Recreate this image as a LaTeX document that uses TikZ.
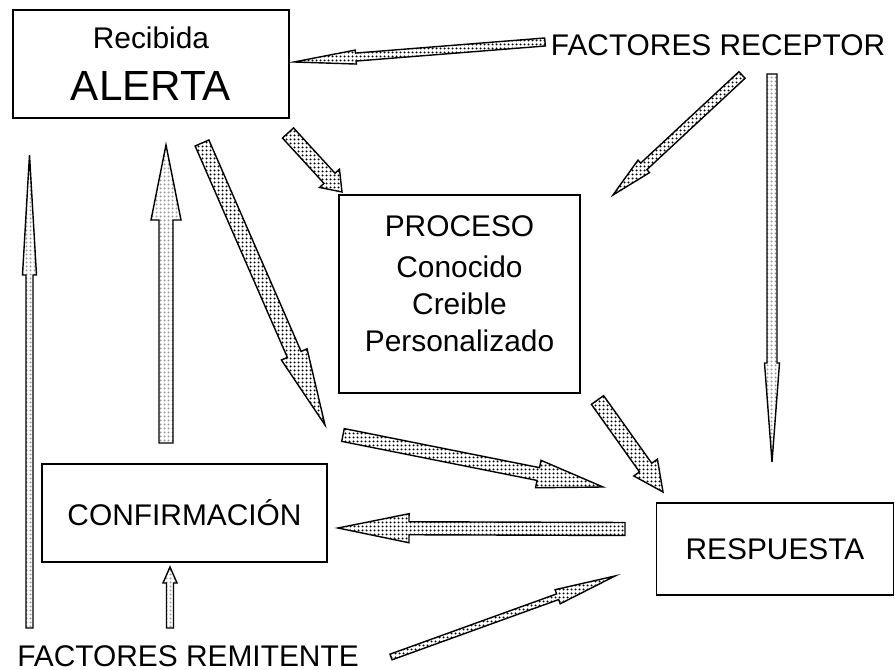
\documentclass[tikz,border=0pt]{standalone}
\usepackage{fontspec}
\setmainfont{Liberation Sans}
\usetikzlibrary{calc,patterns}

% dot fill of the arrows
\pgfdeclarepatternformonly{puntos}{\pgfpointorigin}{\pgfpoint{2pt}{2pt}}{\pgfpoint{2pt}{2pt}}{%
    \pgfpathcircle{\pgfpoint{1pt}{1pt}}{0.7pt}\pgfusepath{fill}}

% block arrow: #1 style, #2 tail, #3 tip, #4 half shaft, #5 half head, #6 head length
\newcommand{\flecha}[6]{%
    \coordinate (fbase) at ($(#3)!#6!(#2)$);
    \draw[#1] ($(#2)!#4!90:(#3)$) -- ($(fbase)!#4!90:(#3)$) -- ($(fbase)!#5!90:(#3)$) -- (#3)
        -- ($(fbase)!#5!-90:(#3)$) -- ($(fbase)!#4!-90:(#3)$) -- ($(#2)!#4!-90:(#3)$) -- cycle;
}

\begin{document}
\begin{tikzpicture}[
    caja/.style={draw, line width=1pt, inner sep=0pt},
    texto/.style={font=\fontsize{17}{21}\selectfont},
    oscura/.style={draw, line width=0.8pt, pattern=puntos, pattern color=black},
    clara/.style={draw, line width=0.8pt, pattern=puntos, pattern color=black!40}
]
    \useasboundingbox (0,0) rectangle (17.9,13.4);

    % Alerta box
    \node[caja, font=\fontsize{17}{29.6}\selectfont, minimum width=5.52cm, minimum height=2.16cm] (alerta) at (3.02,12.12) {
        \begin{tabular}{c}
        Recibida\\
        {\fontsize{24}{28}\selectfont ALERTA}
        \end{tabular}
    };

    % Proceso box
    \node[caja, texto, minimum width=4.82cm, minimum height=3.96cm] (proceso) at (9.19,7.52) {
        \begin{tabular}{c}
        PROCESO\\[2.3pt]
        Conocido\\
        Creible\\
        Personalizado\\[0.28cm]
        \end{tabular}
    };

    % Confirmacion box
    \node[caja, texto, minimum width=5.70cm, minimum height=1.96cm] (confirmacion) at (3.69,3.14) {CONFIRMACIÓN};

    % Respuesta box
    \node[caja, texto, minimum width=4.74cm, minimum height=1.84cm] (respuesta) at (15.5,2.42) {RESPUESTA};

    % Factores
    \node[texto] (receptor) at (14.36,12.5) {FACTORES RECEPTOR};
    \node[texto] (remitente) at (3.76,0.28) {FACTORES REMITENTE};

    % Arrow ends
    \coordinate (cola1) at (10.90,12.56);  \coordinate (punta1) at (5.88,12.16);
    \coordinate (cola2) at (5.76,10.74);   \coordinate (punta2) at (6.84,9.56);
    \coordinate (cola3) at (4.04,10.54);   \coordinate (punta3) at (6.50,4.90);
    \coordinate (cola4) at (0.59,0.84);    \coordinate (punta4) at (0.59,10.30);
    \coordinate (cola5) at (3.32,4.54);    \coordinate (punta5) at (3.32,10.50);
    \coordinate (cola6) at (14.84,11.90);  \coordinate (punta6) at (12.26,9.50);
    \coordinate (cola7) at (15.44,11.92);  \coordinate (punta7) at (15.44,4.16);
    \coordinate (cola8) at (11.95,5.40);   \coordinate (punta8) at (13.26,3.56);
    \coordinate (cola9) at (6.86,4.70);    \coordinate (punta9) at (12.06,3.66);
    \coordinate (cola10) at (12.50,2.82);  \coordinate (punta10) at (6.76,2.84);
    \coordinate (cola11) at (7.82,0.26);   \coordinate (punta11) at (12.30,1.88);
    \coordinate (cola12) at (3.40,0.84);   \coordinate (punta12) at (3.40,2.06);

    % Arrows
    \flecha{oscura}{cola1}{punta1}{0.08cm}{0.14cm}{1.24cm}
    \flecha{oscura}{cola2}{punta2}{0.15cm}{0.27cm}{0.37cm}
    \flecha{oscura}{cola3}{punta3}{0.15cm}{0.28cm}{1.54cm}
    \flecha{clara}{cola4}{punta4}{0.07cm}{0.14cm}{2.40cm}
    \flecha{clara}{cola5}{punta5}{0.14cm}{0.30cm}{1.50cm}
    \flecha{oscura}{cola6}{punta6}{0.09cm}{0.17cm}{0.84cm}
    \flecha{clara}{cola7}{punta7}{0.10cm}{0.15cm}{1.98cm}
    \flecha{oscura}{cola8}{punta8}{0.15cm}{0.29cm}{0.60cm}
    \flecha{oscura}{cola9}{punta9}{0.13cm}{0.28cm}{1.32cm}
    \flecha{oscura}{cola10}{punta10}{0.13cm}{0.29cm}{1.42cm}
    \flecha{oscura}{cola11}{punta11}{0.06cm}{0.15cm}{1.22cm}
    \flecha{clara}{cola12}{punta12}{0.07cm}{0.14cm}{0.32cm}
\end{tikzpicture}
\end{document}
